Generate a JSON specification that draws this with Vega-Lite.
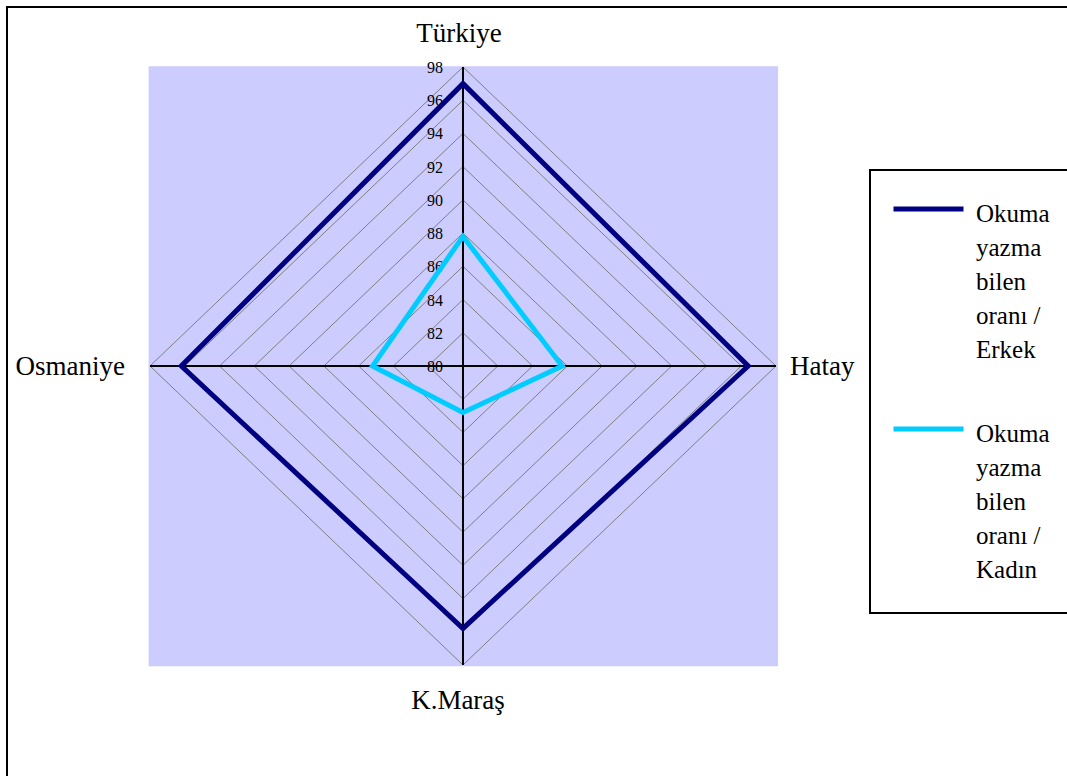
{
  "$schema": "https://vega.github.io/schema/vega-lite/v6.json",
  "width": 1064,
  "height": 773,
  "autosize": {"type": "none"},
  "padding": {"left": 7, "top": 7, "right": -4, "bottom": -4},
  "background": "white",
  "config": {
    "view": {"stroke": "black", "strokeWidth": 2},
    "text": {"font": "Liberation Serif", "color": "black"}
  },
  "datasets": {
    "series": [
      {"seri": "Okuma yazma bilen oranı / Erkek", "bolge": "Türkiye", "deger": 97.0},
      {"seri": "Okuma yazma bilen oranı / Erkek", "bolge": "Hatay", "deger": 96.4},
      {"seri": "Okuma yazma bilen oranı / Erkek", "bolge": "K.Maraş", "deger": 95.8},
      {"seri": "Okuma yazma bilen oranı / Erkek", "bolge": "Osmaniye", "deger": 96.2},
      {"seri": "Okuma yazma bilen oranı / Kadın", "bolge": "Türkiye", "deger": 87.8},
      {"seri": "Okuma yazma bilen oranı / Kadın", "bolge": "Hatay", "deger": 85.7},
      {"seri": "Okuma yazma bilen oranı / Kadın", "bolge": "K.Maraş", "deger": 82.8},
      {"seri": "Okuma yazma bilen oranı / Kadın", "bolge": "Osmaniye", "deger": 85.2}
    ],
    "grid": [
      {"bolge": "Türkiye", "deger": [80, 82, 84, 86, 88, 90, 92, 94, 96, 98]},
      {"bolge": "Hatay", "deger": [80, 82, 84, 86, 88, 90, 92, 94, 96, 98]},
      {"bolge": "K.Maraş", "deger": [80, 82, 84, 86, 88, 90, 92, 94, 96, 98]},
      {"bolge": "Osmaniye", "deger": [80, 82, 84, 86, 88, 90, 92, 94, 96, 98]}
    ],
    "frame": [{"x0": -18.08, "x1": 18.12, "y0": -18.08, "y1": 18.05}]
  },
  "encoding": {
    "x": {"field": "px", "type": "quantitative", "axis": null, "scale": {"domain": [-26.223, 34.965], "nice": false, "zero": false}},
    "y": {"field": "py", "type": "quantitative", "axis": null, "scale": {"domain": [-24.923, 21.612], "nice": false, "zero": false}}
  },
  "layer": [
    {
      "data": {"name": "frame"},
      "mark": {"type": "rect", "color": "#CCCCFF"},
      "encoding": {
        "x": {"field": "x0", "type": "quantitative"},
        "x2": {"field": "x1"},
        "y": {"field": "y0", "type": "quantitative"},
        "y2": {"field": "y1"}
      }
    },
    {
      "data": {"name": "grid"},
      "transform": [
        {"flatten": ["deger"]},
        {"filter": "datum.deger > 80"},
        {"calculate": "indexof(['Türkiye','Hatay','K.Maraş','Osmaniye'], datum.bolge)", "as": "i"},
        {"calculate": "sin(datum.i*PI/2)*(datum.deger-80)", "as": "px"},
        {"calculate": "cos(datum.i*PI/2)*(datum.deger-80)", "as": "py"}
      ],
      "mark": {"type": "line", "interpolate": "linear-closed", "color": "#7F7F7F", "strokeWidth": 1},
      "encoding": {
        "detail": {"field": "deger", "type": "nominal"},
        "order": {"field": "i", "type": "quantitative"}
      }
    },
    {
      "data": {"name": "grid"},
      "transform": [
        {"flatten": ["deger"]},
        {"filter": "datum.deger == 98"},
        {"calculate": "indexof(['Türkiye','Hatay','K.Maraş','Osmaniye'], datum.bolge)", "as": "i"},
        {"calculate": "sin(datum.i*PI/2)*(datum.deger-80)", "as": "px"},
        {"calculate": "cos(datum.i*PI/2)*(datum.deger-80)", "as": "py"},
        {"calculate": "0", "as": "cx"},
        {"calculate": "0", "as": "cy"}
      ],
      "mark": {"type": "rule", "color": "black", "strokeWidth": 2},
      "encoding": {
        "x": {"field": "cx", "type": "quantitative"},
        "y": {"field": "cy", "type": "quantitative"},
        "x2": {"field": "px"},
        "y2": {"field": "py"}
      }
    },
    {
      "data": {"name": "grid"},
      "transform": [
        {"flatten": ["deger"]},
        {"filter": "datum.bolge == 'Türkiye'"},
        {"calculate": "0", "as": "px"},
        {"calculate": "datum.deger-80", "as": "py"}
      ],
      "mark": {"type": "text", "align": "right", "baseline": "middle", "dx": -20, "dy": 1, "fontSize": 16},
      "encoding": {
        "text": {"field": "deger", "type": "quantitative"}
      }
    },
    {
      "data": {"name": "series"},
      "transform": [
        {"calculate": "indexof(['Türkiye','Hatay','K.Maraş','Osmaniye'], datum.bolge)", "as": "i"},
        {"calculate": "sin(datum.i*PI/2)*(datum.deger-80)", "as": "px"},
        {"calculate": "cos(datum.i*PI/2)*(datum.deger-80)", "as": "py"}
      ],
      "mark": {"type": "line", "interpolate": "linear-closed", "strokeWidth": 5, "strokeJoin": "miter"},
      "encoding": {
        "order": {"field": "i", "type": "quantitative"},
        "color": {
          "field": "seri",
          "type": "nominal",
          "scale": {"domain": ["Okuma yazma bilen oranı / Erkek", "Okuma yazma bilen oranı / Kadın"], "range": ["#000080", "#00CCFF"]},
          "legend": {
            "title": " ",
            "titleOrient": "bottom",
            "titleFontSize": 1,
            "titlePadding": 8,
            "orient": "none",
            "legendX": 863,
            "legendY": 163,
            "symbolType": "stroke",
            "symbolSize": 4900,
            "symbolStrokeWidth": 5,
            "labelFont": "Liberation Serif",
            "labelFontSize": 25,
            "labelColor": "black",
            "labelLimit": 400,
            "labelOffset": 10,
            "labelBaseline": "top",
            "labelExpr": "split(replace(datum.label, ' /', '\u00a0/'), ' ')",
            "rowPadding": 48,
            "padding": 21,
            "strokeColor": "black",
            "fillColor": "white",
            "encode": {
              "legend": {"update": {"strokeWidth": {"value": 2}}},
              "symbols": {"update": {"y": {"value": 18}}},
              "labels": {"update": {"y": {"value": 18}, "lineHeight": {"value": 34}, "dy": {"value": -7}}}
            }
          }
        }
      }
    },
    {
      "data": {"name": "grid"},
      "transform": [
        {"flatten": ["deger"]},
        {"filter": "datum.deger == 98 && datum.bolge == 'Türkiye'"},
        {"calculate": "0", "as": "px"},
        {"calculate": "datum.deger-80", "as": "py"}
      ],
      "mark": {"type": "text", "align": "center", "baseline": "alphabetic", "dx": -4, "dy": -25, "fontSize": 27},
      "encoding": {"text": {"field": "bolge"}}
    },
    {
      "data": {"name": "grid"},
      "transform": [
        {"flatten": ["deger"]},
        {"filter": "datum.deger == 98 && datum.bolge == 'K.Maraş'"},
        {"calculate": "0", "as": "px"},
        {"calculate": "80-datum.deger", "as": "py"}
      ],
      "mark": {"type": "text", "align": "center", "baseline": "alphabetic", "dx": -5, "dy": 44, "fontSize": 27},
      "encoding": {"text": {"field": "bolge"}}
    },
    {
      "data": {"name": "grid"},
      "transform": [
        {"flatten": ["deger"]},
        {"filter": "datum.deger == 98 && datum.bolge == 'Hatay'"},
        {"calculate": "datum.deger-80", "as": "px"},
        {"calculate": "0", "as": "py"}
      ],
      "mark": {"type": "text", "align": "left", "baseline": "alphabetic", "dx": 14, "dy": 9, "fontSize": 27},
      "encoding": {"text": {"field": "bolge"}}
    },
    {
      "data": {"name": "grid"},
      "transform": [
        {"flatten": ["deger"]},
        {"filter": "datum.deger == 98 && datum.bolge == 'Osmaniye'"},
        {"calculate": "80-datum.deger", "as": "px"},
        {"calculate": "0", "as": "py"}
      ],
      "mark": {"type": "text", "align": "right", "baseline": "alphabetic", "dx": -25, "dy": 9, "fontSize": 27},
      "encoding": {"text": {"field": "bolge"}}
    }
  ]
}
